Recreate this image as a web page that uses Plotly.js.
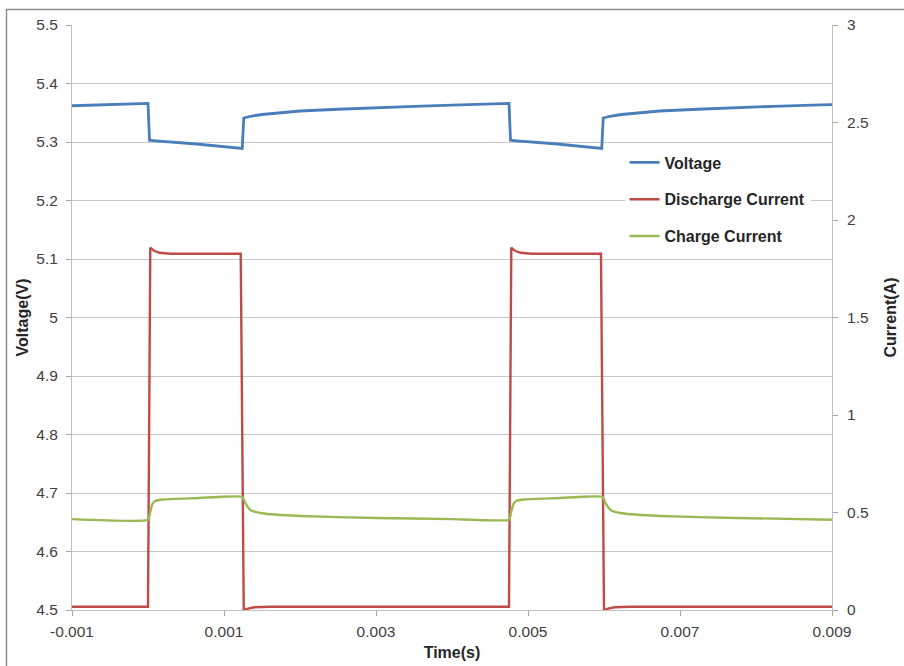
<!DOCTYPE html>
<html>
<head>
<meta charset="utf-8">
<script src="https://cdn.plot.ly/plotly-3.0.1.min.js"></script>
<style>
html,body{margin:0;padding:0;background:#fff;}
#chart{width:904px;height:666px;}
</style>
</head>
<body>
<div id="chart"></div>
<script>
// ---- data (time in seconds) ----
var voltageTime = [-0.00100, -0.00050, 0.00000, 0.00002, 0.00010, 0.00060, 0.00124, 0.00126, 0.00135, 0.00150, 0.00175, 0.00200, 0.00250, 0.00300, 0.00350, 0.00400, 0.00440, 0.00475, 0.00477, 0.00485, 0.00535, 0.00597, 0.00599, 0.00608, 0.00623, 0.00648, 0.00673, 0.00723, 0.00773, 0.00823, 0.00873, 0.00900];
var voltage     = [5.362, 5.364, 5.366, 5.303, 5.302, 5.297, 5.289, 5.341, 5.344, 5.347, 5.350, 5.353, 5.356, 5.359, 5.361, 5.363, 5.365, 5.366, 5.303, 5.302, 5.297, 5.289, 5.341, 5.344, 5.347, 5.350, 5.353, 5.356, 5.359, 5.361, 5.363, 5.364];

var dischargeTime = [-0.00100, 0.00000, 0.00003, 0.00008, 0.00015, 0.00030, 0.00122, 0.00126, 0.00130, 0.00140, 0.00160, 0.00475, 0.00478, 0.00483, 0.00490, 0.00505, 0.00596, 0.00600, 0.00604, 0.00614, 0.00634, 0.00900];
var discharge     = [0.017, 0.017, 1.858, 1.842, 1.832, 1.827, 1.827, -0.004, 0.006, 0.014, 0.017, 0.017, 1.858, 1.842, 1.832, 1.827, 1.827, -0.004, 0.006, 0.014, 0.017, 0.017];

var chargeTime = [-0.00100, 0.00000, 0.00003, 0.00006, 0.00010, 0.00020, 0.00060, 0.00124, 0.00128, 0.00135, 0.00150, 0.00200, 0.00300, 0.00400, 0.00475, 0.00478, 0.00481, 0.00485, 0.00495, 0.00535, 0.00598, 0.00602, 0.00609, 0.00624, 0.00674, 0.00775, 0.00900];
var charge     = [0.466, 0.463, 0.505, 0.545, 0.560, 0.567, 0.573, 0.581, 0.548, 0.512, 0.496, 0.482, 0.472, 0.466, 0.463, 0.505, 0.545, 0.560, 0.567, 0.573, 0.581, 0.548, 0.512, 0.496, 0.482, 0.472, 0.463];

var xTickVals = [-0.001, 0.001, 0.003, 0.005, 0.007, 0.009];
var xTickText = ["-0.001", "0.001", "0.003", "0.005", "0.007", "0.009"];

var FONT = "Liberation Sans, Arial, sans-serif";
var TICKFONT = {family: FONT, size: 15.5, color: "#404040"};
var TITLEFONT = {family: FONT, size: 16, color: "#262626", weight: "bold"};

var traces = [
  {x: voltageTime, y: voltage, name: "Voltage", type: "scatter", mode: "lines",
   line: {color: "#4a7ebb", width: 2.8}, yaxis: "y", legendgroup: "a"},
  {x: dischargeTime, y: discharge, name: "Discharge Current", type: "scatter", mode: "lines",
   line: {color: "#be4b48", width: 2.4}, yaxis: "y2", legendgroup: "b"},
  {x: chargeTime, y: charge, name: "Charge Current", type: "scatter", mode: "lines",
   line: {color: "#98b954", width: 2.4, shape: "spline", smoothing: 0.4}, yaxis: "y2", legendgroup: "c"}
];

var layout = {
  width: 904, height: 666,
  margin: {l: 72, r: 72, t: 25, b: 56, pad: 0},
  paper_bgcolor: "#ffffff", plot_bgcolor: "#ffffff",
  font: {family: FONT, size: 15, color: "#404040"},
  showlegend: true,
  legend: {
    x: 0.727, y: 0.794, xanchor: "left", yanchor: "top",
    bgcolor: "#ffffff", borderwidth: 0,
    traceorder: "grouped", tracegroupgap: 13,
    font: {family: FONT, size: 16, color: "#262626", weight: "bold"}
  },
  xaxis: {
    range: [-0.001, 0.009],
    tickmode: "array", tickvals: xTickVals, ticktext: xTickText,
    ticks: "outside", ticklen: 5, tickcolor: "#a6a6a6",
    showline: true, linecolor: "#bfbfbf", linewidth: 1,
    showgrid: false, zeroline: false,
    ticklabelstandoff: 2,
    tickfont: TICKFONT,
    title: {text: "Time(s)", font: TITLEFONT, standoff: 8}
  },
  yaxis: {
    range: [4.5, 5.5], dtick: 0.1, tick0: 4.5,
    ticks: "outside", ticklen: 5, tickcolor: "#a6a6a6",
    showline: true, linecolor: "#bfbfbf", linewidth: 1,
    showgrid: true, gridcolor: "#c8c8c8", gridwidth: 1, zeroline: false,
    ticklabelstandoff: 5,
    tickfont: TICKFONT,
    title: {text: "Voltage(V)", font: TITLEFONT, standoff: 3}
  },
  yaxis2: {
    range: [0, 3], dtick: 0.5, tick0: 0,
    overlaying: "y", side: "right",
    ticks: "outside", ticklen: 5, tickcolor: "#a6a6a6",
    showline: true, linecolor: "#bfbfbf", linewidth: 1,
    showgrid: false, zeroline: false,
    ticklabelstandoff: 6,
    tickfont: TICKFONT,
    title: {text: "Current(A)", font: TITLEFONT, standoff: 17}
  },
  shapes: [
    {type: "rect", xref: "paper", yref: "paper",
     x0: -0.0862, x1: 1.12, y0: -0.12, y1: 1.0265,
     line: {color: "#8c8c8c", width: 1.5}, fillcolor: "rgba(0,0,0,0)", layer: "below"}
  ]
};

Plotly.newPlot("chart", traces, layout, {displayModeBar: false, staticPlot: true});
</script>
</body>
</html>
